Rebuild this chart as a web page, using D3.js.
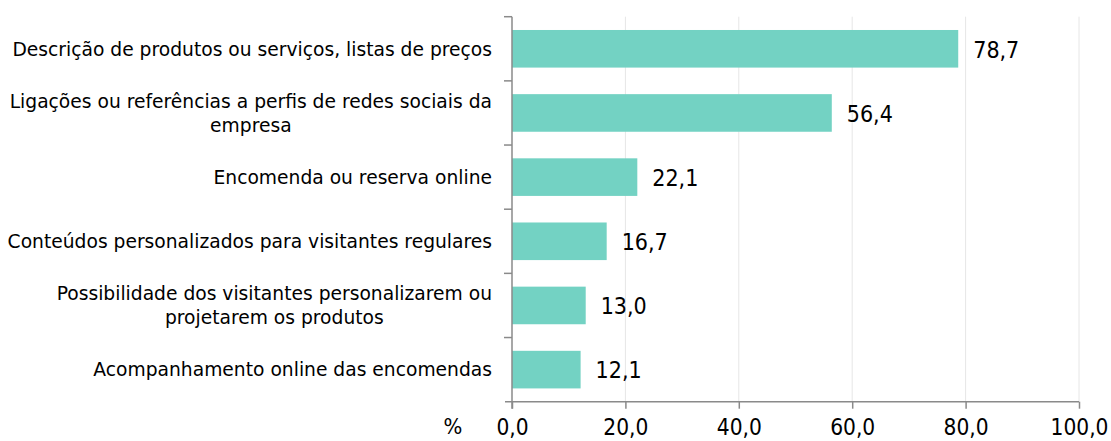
<!DOCTYPE html>
<html>
<head>
<meta charset="utf-8">
<script src="https://cdn.jsdelivr.net/npm/d3@7"></script>
<style>
  html, body { margin: 0; padding: 0; background: #fff; }
  svg { display: block; }
  text { font-family: "DejaVu Sans Condensed", "DejaVu Sans", sans-serif; font-stretch: condensed; fill: #000; }
  text.cat { font-family: "DejaVu Sans", sans-serif; font-stretch: normal; }
</style>
</head>
<body>
<svg id="chart" width="1111" height="441"></svg>
<script>
const categories = [
  "Descrição de produtos ou serviços, listas de preços",
  "Ligações ou referências a perfis de redes sociais da\nempresa",
  "Encomenda ou reserva online",
  "Conteúdos personalizados para visitantes regulares",
  "Possibilidade dos visitantes personalizarem ou\nprojetarem os produtos",
  "Acompanhamento online das encomendas"
];
const values = [78.7, 56.4, 22.1, 16.7, 13.0, 12.1];
const xTicks = [0, 20, 40, 60, 80, 100];
const axisUnit = "%";

const fmt = v => v.toFixed(1).replace(".", ",");

const svg = d3.select("#chart");
const pLeft = 512, pRight = 1079, pTop = 16.7, pBottom = 401.7;

const x = d3.scaleLinear().domain([0, 100]).range([pLeft, pRight]);
const y = d3.scaleBand().domain(categories).range([pTop, pBottom])
  .paddingInner(0.414).paddingOuter(0.207);

// gridlines
svg.append("g").selectAll("line").data(xTicks.filter(d => d > 0)).join("line")
  .attr("x1", d => x(d)).attr("x2", d => x(d))
  .attr("y1", pTop).attr("y2", pBottom)
  .attr("stroke", "#e6e6e6").attr("stroke-width", 1);

// bars
svg.append("g").selectAll("rect").data(values).join("rect")
  .attr("x", x(0))
  .attr("y", (d, i) => y(categories[i]))
  .attr("width", d => x(d) - x(0))
  .attr("height", y.bandwidth())
  .attr("fill", "#73d2c3");

// bottom axis
const xAxis = d3.axisBottom(x).tickValues(xTicks).tickFormat(fmt).tickSizeInner(7).tickSizeOuter(0).tickPadding(22);
const gx = svg.append("g").attr("transform", `translate(0,${pBottom})`).call(xAxis);
gx.select(".domain").remove();
gx.append("line").attr("x1", pLeft - 7).attr("x2", pRight).attr("y1", 0).attr("y2", 0)
  .attr("stroke", "#8a8a8a").attr("stroke-width", 1.5);
gx.selectAll(".tick line").attr("stroke", "#8a8a8a").attr("stroke-width", 1.5);
gx.attr("font-family", null).attr("font-size", null);
gx.selectAll(".tick text").attr("font-size", 22.5).attr("fill", "#000")
  .attr("dy", null).attr("y", 33.8);

svg.append("text").attr("x", 453).attr("y", 434).attr("text-anchor", "middle")
  .attr("font-size", 22).text(axisUnit);

// left axis
const step = y.step();
const gy = svg.append("g");
gy.append("line").attr("x1", pLeft).attr("x2", pLeft).attr("y1", pTop).attr("y2", pBottom + 7)
  .attr("stroke", "#8a8a8a").attr("stroke-width", 1.5);
gy.selectAll("line.tk").data(d3.range(categories.length)).join("line").attr("class", "tk")
  .attr("x1", pLeft - 8).attr("x2", pLeft)
  .attr("y1", i => pTop + i * step).attr("y2", i => pTop + i * step)
  .attr("stroke", "#8a8a8a").attr("stroke-width", 1.5);

// category labels
const labelRight = 492, lineH = 24;
categories.forEach((c, i) => {
  const lines = c.split("\n");
  const cy = y(c) + y.bandwidth() / 2;
  const g = svg.append("g");
  const texts = lines.map((ln, j) => g.append("text")
    .attr("class", "cat")
    .attr("font-size", 18.7)
    .attr("text-anchor", "middle")
    .attr("y", cy + (j - (lines.length - 1) / 2) * lineH)
    .attr("dy", "0.36em")
    .text(ln));
  const w = d3.max(texts, t => t.node().getComputedTextLength());
  texts.forEach(t => t.attr("x", labelRight - w / 2));
});

// value labels
svg.append("g").selectAll("text").data(values).join("text")
  .attr("x", d => x(d) + 15)
  .attr("y", (d, i) => y(categories[i]) + y.bandwidth() / 2)
  .attr("dy", "0.38em")
  .attr("font-size", 23)
  .text(fmt);
</script>
</body>
</html>
